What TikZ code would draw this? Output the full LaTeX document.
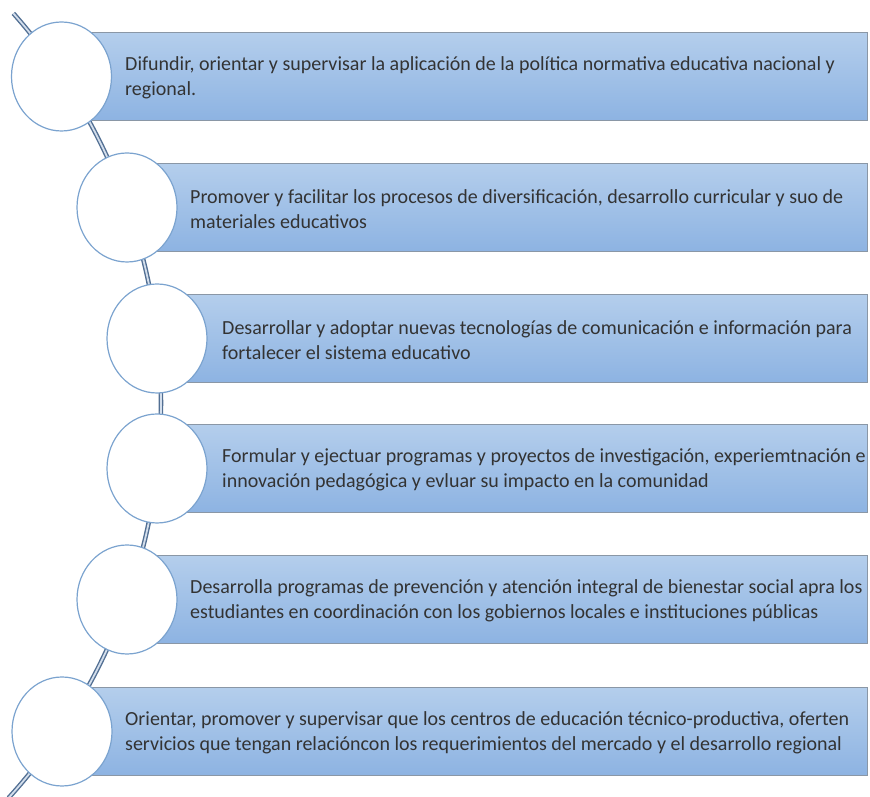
\documentclass[tikz,border=0pt]{standalone}
\usepackage{fontspec}
\setmainfont{Carlito}
\usetikzlibrary{shapes.geometric}
\definecolor{bartop}{HTML}{B4CEEC}
\definecolor{barbot}{HTML}{8DB3E2}
\definecolor{barline}{HTML}{8A97A6}
\definecolor{circline}{HTML}{7BA3CF}
\definecolor{arcline}{HTML}{526F93}
\definecolor{arcfill}{HTML}{D3DEEC}
\definecolor{txt}{HTML}{333333}
\tikzset{
  barbox/.style={rectangle, draw=barline, line width=1.2pt, top color=bartop, bottom color=barbot, minimum height=88pt, inner sep=0pt},
  circ/.style={ellipse, draw=circline, line width=1.2pt, fill=white, minimum width=100pt, minimum height=109pt, inner sep=0pt},
  lbl/.style={anchor=west, align=left, inner sep=0pt, text=txt, font=\fontsize{20}{24.5}\selectfont},
  spine/.style={draw=arcline, line width=1.4pt, double=arcfill, double distance=1.8pt}
}
\begin{document}
\begin{tikzpicture}[x=1pt,y=1pt]
\useasboundingbox (0,0) rectangle (870,797);
\coordinate (ac) at (-427,394);
\draw[spine] ([shift={(41.5:588pt)}]ac) arc[start angle=41.5, end angle=-42.2, radius=588pt];
% bars
\node[barbox, minimum width=806.5pt, anchor=east] (b1) at (868,720.5) {};
\node[barbox, minimum width=741pt, anchor=east] (b2) at (868,589.5) {};
\node[barbox, minimum width=711pt, anchor=east] (b3) at (868,458.5) {};
\node[barbox, minimum width=711pt, anchor=east] (b4) at (868,328.5) {};
\node[barbox, minimum width=741pt, anchor=east] (b5) at (868,197.5) {};
\node[barbox, minimum width=806pt, anchor=east] (b6) at (868,65.5) {};
% circles
\node[circ] (c1) at (61.5,720.5) {};
\node[circ] (c2) at (127,589.5) {};
\node[circ] (c3) at (157,458.5) {};
\node[circ] (c4) at (157,328.5) {};
\node[circ] (c5) at (127,197.5) {};
\node[circ] (c6) at (62,65.5) {};
% texts
\node[lbl] (t1) at (125,719) {Difundir, orientar y supervisar la aplicación de la política normativa educativa nacional y\\regional.};
\node[lbl] (t2) at (190,588) {Promover y facilitar los procesos de diversificación, desarrollo curricular y suo de\\materiales educativos};
\node[lbl] (t3) at (222,457) {Desarrollar y adoptar nuevas tecnologías de comunicación e información para\\fortalecer el sistema educativo};
\node[lbl] (t4) at (222,327) {Formular y ejectuar programas y proyectos de investigación, experiemtnación e\\innovación pedagógica y evluar su impacto en la comunidad};
\node[lbl] (t5) at (190,196) {Desarrolla programas de prevención y atención integral de bienestar social apra los\\estudiantes en coordinación con los gobiernos locales e instituciones públicas};
\node[lbl] (t6) at (125,64) {Orientar, promover y supervisar que los centros de educación técnico-productiva, oferten\\servicios que tengan relacióncon los requerimientos del mercado y el desarrollo regional};
\end{tikzpicture}
\end{document}
